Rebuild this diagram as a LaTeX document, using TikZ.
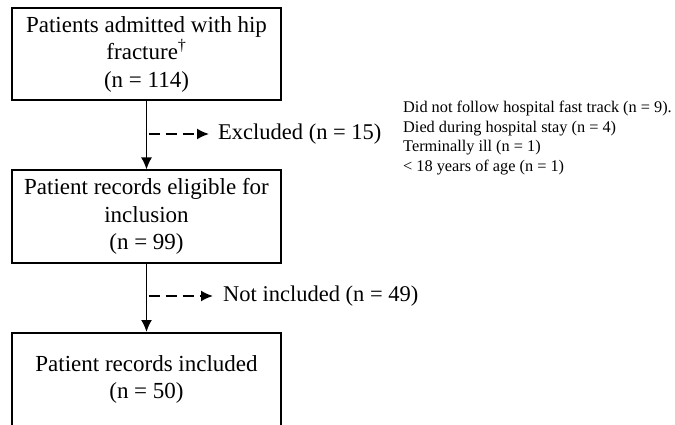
\documentclass[tikz,border=0pt]{standalone}
\usepackage{fontspec}
\setmainfont{Liberation Serif}
\usetikzlibrary{arrows.meta}

\begin{document}
\begin{tikzpicture}[
x=1pt,
y=-1pt,
flowbox/.style={rectangle, draw, line width=2pt, minimum width=269pt, minimum height=92pt, inner sep=0pt, align=center, font=\fontsize{23}{27.5}\selectfont, execute at begin node={\rule{0pt}{22pt}}},
flowarrow/.style={-{Latex[length=12pt,width=11pt]}, line width=1.7pt},
exclarrow/.style={-{Latex[length=12pt,width=11pt]}, line width=1.7pt, dash pattern=on 11pt off 6pt},
sidetext/.style={inner sep=0pt, anchor=west, font=\fontsize{22.5}{27}\selectfont},
]
\useasboundingbox (0,0) rectangle (675,425);
\node[flowbox] (admitted) at (146.5,54) {Patients admitted with hip\\fracture\textsuperscript{\textdagger}\\(n = 114)};
\node[flowbox] (eligible) at (146.5,216.5) {Patient records eligible for\\inclusion\\(n = 99)};
\node[flowbox, minimum height=92.5pt] (included) at (146.5,379.25) {Patient records included\\(n = 50)};
\draw[flowarrow] (admitted) -- (eligible);
\draw[flowarrow] (eligible) -- (included);
\coordinate (exfork) at (146.5,134);
\coordinate (nifork) at (146.5,296);
\node[sidetext] (excluded) at (218,134) {Excluded (n = 15)};
\node[sidetext] (notincl) at (223,296) {Not included (n = 49)};
\draw[exclarrow, shorten <=2pt, shorten >=9pt] (exfork) -- (excluded);
\draw[exclarrow, shorten <=2pt, shorten >=10pt] (nifork) -- (notincl);
\node[anchor=north west, inner sep=0pt, align=left, font=\fontsize{16.3}{19.5}\selectfont] (reasons) at (403,101)
{Did not follow hospital fast track (n = 9).\\Died during hospital stay (n = 4)\\Terminally ill (n = 1)\\< 18 years of age (n = 1)};
\end{tikzpicture}
\end{document}
